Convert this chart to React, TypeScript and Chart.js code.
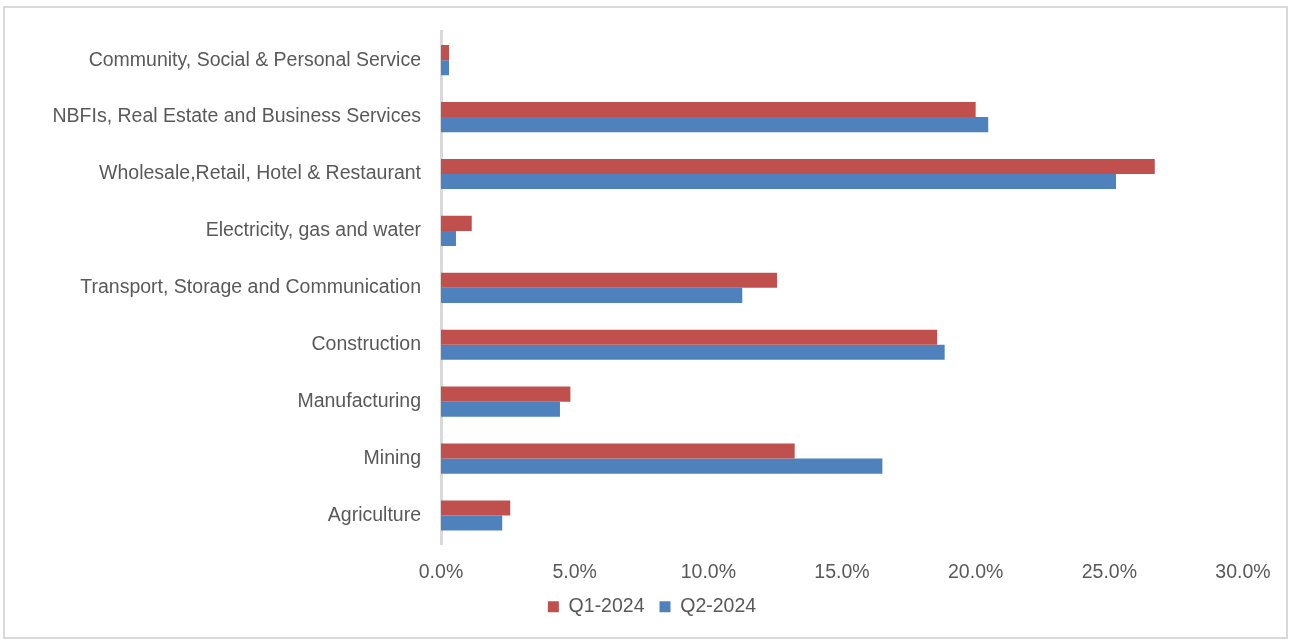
import React, { useEffect, useRef } from "react";
import { Chart, registerables } from "chart.js";

Chart.register(...registerables);

const categories = [
  "Community, Social & Personal Service",
  "NBFIs, Real Estate and Business Services",
  "Wholesale,Retail, Hotel & Restaurant",
  "Electricity, gas and water",
  "Transport, Storage and Communication",
  "Construction",
  "Manufacturing",
  "Mining",
  "Agriculture",
];

const q1Values = [0.3, 20.0, 26.7, 1.15, 12.57, 18.56, 4.84, 13.23, 2.59];
const q2Values = [0.3, 20.47, 25.25, 0.56, 11.27, 18.84, 4.45, 16.51, 2.29];

const seriesNames = ["Q1-2024", "Q2-2024"];
const xMin = 0;
const xMax = 30;
const xStep = 5;

const FONT = "'Liberation Sans', Arial, sans-serif";
const TEXT = "#595959";
const FS = 19.5;

const legendShift = {
  id: "legendShift",
  beforeDraw(c: any) {
    if (c.legend) {
      c.legend.left = 61;
    }
  },
};

export default function App() {
  const ref = useRef<HTMLCanvasElement | null>(null);

  useEffect(() => {
    if (!ref.current) return;
    const chart = new Chart(ref.current, {
      type: "bar",
      data: {
        labels: categories,
        datasets: [
          {
            label: seriesNames[0],
            data: q1Values,
            backgroundColor: "#C0504D",
            borderWidth: 0,
          },
          {
            label: seriesNames[1],
            data: q2Values,
            backgroundColor: "#4F81BD",
            borderWidth: 0,
          },
        ],
      },
      plugins: [legendShift],
      options: {
        indexAxis: "y",
        animation: false,
        responsive: false,
        maintainAspectRatio: false,
        layout: { padding: { left: 20, right: 46, top: 31, bottom: 14.5 } },
        datasets: {
          bar: { categoryPercentage: 0.53, barPercentage: 1.0 },
        },
        scales: {
          x: {
            min: xMin,
            max: xMax,
            grid: { display: false, drawTicks: false },
            border: { display: false },
            afterFit: (s: any) => {
              s.height = 38;
            },
            ticks: {
              stepSize: xStep,
              padding: 17,
              color: TEXT,
              font: { family: FONT, size: FS },
              callback: (v: any) => Number(v).toFixed(1) + "%",
            },
          },
          y: {
            grid: { display: false, drawTicks: false },
            border: { display: true, color: "#d9d9d9", width: 3 },
            afterFit: (s: any) => {
              s.width = 441 - 20;
            },
            ticks: {
              padding: 20,
              color: TEXT,
              font: { family: FONT, size: FS },
            },
          },
        },
        plugins: {
          legend: {
            position: "bottom",
            labels: {
              boxWidth: 11,
              boxHeight: 11,
              padding: 15,
              color: TEXT,
              font: { family: FONT, size: FS },
            },
          },
          tooltip: { enabled: false },
        },
      },
    });
    return () => chart.destroy();
  }, []);

  return (
    <div style={{ position: "fixed", left: 0, top: 0, width: 1289, height: 641, background: "#fff" }}>
      <div
        style={{
          position: "absolute",
          left: 3,
          top: 6,
          width: 1285,
          height: 633,
          border: "2px solid #d9d9d9",
          boxSizing: "border-box",
        }}
      />
      <canvas ref={ref} width={1289} height={641} style={{ position: "absolute", left: 0, top: 0 }} />
    </div>
  );
}
